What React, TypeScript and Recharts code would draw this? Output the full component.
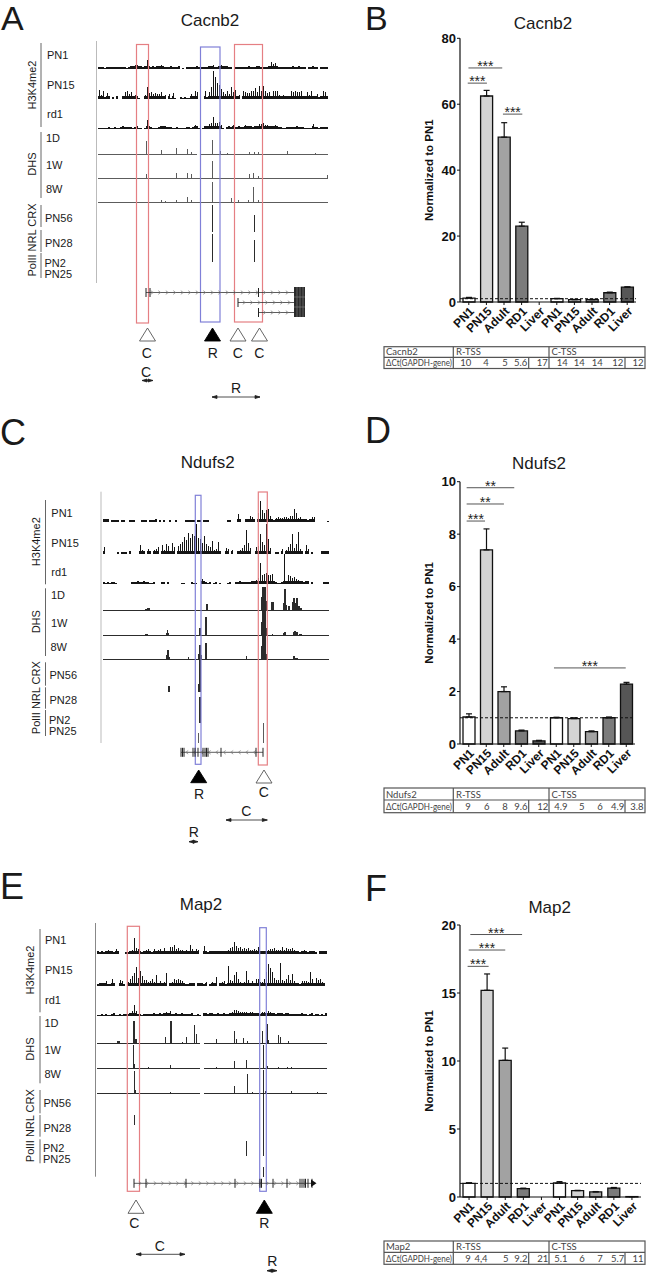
import React from 'react';
import {
  BarChart,
  Bar,
  Cell,
  ErrorBar,
  XAxis,
  YAxis,
  ReferenceLine,
} from 'recharts';

const FONT = '"Liberation Sans", Arial, sans-serif';
const TRACK_DARK = '#151515';
const TRACK_THIN = '#4a4a4a';
const RED = '#e57f83';
const BLUE = '#8080d8';

const CATEGORIES = ['PN1', 'PN15', 'Adult', 'RD1', 'Liver', 'PN1', 'PN15', 'Adult', 'RD1', 'Liver'];
const BAR_FILLS = ['#ffffff', '#d4d4d4', '#a2a2a2', '#7b7b7b', '#565656', '#ffffff', '#d4d4d4', '#a2a2a2', '#7b7b7b', '#565656'];

const cacnb2Values = [1.2, 62.5, 50, 23, 0, 1.0, 0.7, 0.7, 2.8, 4.5];
const cacnb2Errors = [0.2, 1.7, 4.4, 1.2, 0, 0.1, 0.1, 0.1, 0.2, 0.1];
const cacnb2Dct = ['10', '4', '5', '5.6', '17', '14', '14', '14', '12', '12'];

const ndufs2Values = [1.03, 7.4, 2.0, 0.5, 0.12, 1.0, 0.97, 0.47, 1.0, 2.28];
const ndufs2Errors = [0.12, 0.8, 0.18, 0.03, 0.02, 0.02, 0.03, 0.03, 0.03, 0.07];
const ndufs2Dct = ['9', '6', '8', '9.6', '12', '4.9', '5', '6', '4.9', '3.8'];

const map2Values = [1.0, 15.2, 10.05, 0.62, 0, 1.03, 0.47, 0.37, 0.65, 0.03];
const map2Errors = [0.05, 1.2, 0.9, 0.03, 0, 0.1, 0.02, 0.03, 0.05, 0];
const map2Dct = ['9', '4,4', '5', '9.2', '21', '5.1', '6', '7', '5.7', '11'];

// significance brackets: [from slot, to slot, height, stars]
const cacnb2Sig: [number, number, number, string][] = [
  [-0.06, 1.03, 66.4, '***'],
  [-0.02, 1.9, 71, '***'],
  [1.94, 3.04, 57, '***'],
];
const ndufs2Sig: [number, number, number, string][] = [
  [-0.12, 0.93, 8.5, '***'],
  [-0.12, 2.01, 9.15, '**'],
  [-0.12, 2.6, 9.77, '**'],
  [4.87, 8.97, 2.9, '***'],
];
const map2Sig: [number, number, number, string][] = [
  [-0.08, 1.08, 16.96, '***'],
  [-0.02, 2.0, 18.16, '***'],
  [0.07, 2.93, 19.3, '***'],
];

// H3K4me2 signal, one value per 2px bin
const aPn1 = [
  2, 2, 2, 1, 2, 2, 2, 2, 2, 2,
  2, 2, 2, 2, 1, 2, 3, 3, 4, 4,
  3, 3, 2, 3, 9, 3, 2, 3, 2, 3,
  3, 4, 3, 2, 2, 2, 3, 2, 2, 2,
  3, 0, 1, 0, 2, 2, 2, 2, 2, 3,
  2, 2, 2, 2, 2, 3, 3, 4, 2, 2,
  3, 4, 3, 3, 3, 2, 2, 0, 2, 2,
  2, 2, 2, 2, 2, 3, 2, 2, 2, 3,
  3, 2, 2, 2, 2, 3, 7, 5, 6, 3,
  2, 2, 2, 2, 2, 2, 2, 3, 2, 2,
  3, 2, 2, 2, 0, 2, 2, 3, 2, 2,
  0, 2, 2, 2, 2,
];
const aPn15 = [
  9, 4, 8, 2, 6, 3, 0, 2, 0, 3,
  0, 0, 3, 7, 8, 5, 7, 3, 4, 3,
  1, 0, 0, 4, 12, 6, 7, 5, 6, 5,
  5, 7, 3, 4, 0, 5, 1, 6, 1, 0,
  0, 2, 1, 2, 1, 1, 5, 3, 8, 7,
  0, 0, 0, 8, 2, 7, 12, 28, 22, 16,
  14, 10, 7, 5, 8, 5, 12, 7, 9, 3,
  4, 0, 8, 7, 6, 6, 8, 8, 11, 7,
  13, 8, 13, 8, 6, 7, 3, 8, 8, 8,
  4, 3, 4, 3, 3, 3, 8, 7, 8, 7,
  7, 8, 3, 3, 7, 4, 8, 3, 3, 5,
  2, 3, 8, 7, 3,
];
const aRd1 = [
  1, 1, 1, 1, 1, 2, 1, 1, 2, 1,
  1, 2, 3, 2, 2, 2, 2, 1, 2, 3,
  1, 1, 0, 1, 9, 3, 2, 1, 1, 1,
  2, 3, 3, 3, 2, 2, 2, 1, 1, 2,
  1, 1, 1, 1, 2, 2, 1, 2, 4, 3,
  1, 0, 1, 3, 3, 5, 6, 12, 6, 6,
  7, 4, 1, 0, 2, 3, 2, 4, 2, 2,
  3, 2, 2, 4, 3, 3, 3, 2, 3, 3,
  5, 5, 6, 4, 4, 3, 3, 3, 4, 3,
  2, 2, 1, 1, 2, 2, 2, 2, 2, 3,
  2, 2, 2, 1, 1, 1, 1, 5, 2, 2,
  1, 2, 2, 2, 2,
];
const cPn1 = [
  3, 3, 3, 0, 2, 2, 2, 2, 0, 2,
  2, 0, 0, 2, 2, 2, 0, 0, 0, 2,
  2, 2, 0, 2, 2, 2, 3, 0, 2, 0,
  2, 0, 0, 2, 0, 0, 2, 0, 0, 0,
  0, 2, 2, 2, 2, 2, 0, 2, 2, 0,
  2, 2, 2, 0, 0, 0, 0, 0, 0, 0,
  0, 0, 2, 2, 0, 0, 0, 8, 3, 0,
  0, 3, 3, 6, 5, 3, 0, 9, 21, 12,
  9, 12, 13, 6, 3, 2, 4, 5, 4, 4,
  5, 5, 4, 6, 6, 13, 9, 4, 5, 3,
  3, 3, 2, 3, 5, 5, 0, 0, 0, 0,
  0, 0, 1,
];
const cPn15 = [
  7, 0, 0, 0, 0, 0, 0, 2, 0, 2,
  2, 2, 0, 3, 0, 0, 0, 0, 9, 4,
  3, 0, 5, 3, 0, 4, 5, 7, 0, 9,
  4, 10, 8, 3, 11, 7, 0, 8, 10, 12,
  17, 14, 21, 16, 20, 18, 30, 16, 15, 11,
  18, 10, 8, 7, 13, 4, 5, 12, 3, 0,
  0, 6, 5, 0, 4, 0, 0, 3, 4, 6,
  9, 24, 11, 6, 0, 0, 7, 8, 20, 12,
  9, 30, 15, 6, 0, 0, 2, 2, 0, 5,
  0, 4, 7, 10, 20, 6, 10, 22, 5, 3,
  0, 9, 5, 0, 2, 0, 0, 0, 0, 3,
  3, 3, 3,
];
const cRd1 = [
  2, 1, 2, 1, 2, 2, 1, 0, 0, 0,
  0, 0, 0, 0, 2, 2, 2, 3, 2, 2,
  3, 2, 2, 1, 1, 2, 0, 0, 0, 2,
  2, 0, 2, 0, 0, 0, 0, 0, 0, 1,
  1, 0, 0, 0, 2, 1, 1, 0, 0, 5,
  3, 2, 1, 2, 0, 1, 2, 0, 1, 0,
  0, 0, 1, 2, 0, 0, 2, 2, 3, 2,
  2, 2, 2, 2, 3, 3, 4, 6, 21, 9,
  10, 11, 9, 9, 10, 3, 2, 1, 1, 2,
  30, 3, 9, 8, 6, 7, 5, 4, 3, 3,
  2, 3, 3, 0, 2, 0, 0, 0, 0, 0,
  2, 2, 2,
];
const ePn1 = [
  3, 2, 3, 2, 3, 4, 3, 3, 2, 5,
  3, 0, 0, 0, 2, 2, 3, 4, 16, 6,
  5, 3, 2, 3, 4, 5, 3, 2, 5, 3,
  4, 5, 3, 6, 3, 3, 7, 7, 9, 5,
  6, 4, 4, 3, 4, 3, 9, 5, 3, 5,
  4, 0, 0, 8, 3, 2, 3, 3, 3, 3,
  3, 3, 3, 3, 3, 4, 6, 7, 12, 8,
  6, 7, 5, 6, 5, 6, 4, 4, 5, 4,
  7, 3, 3, 3, 3, 4, 5, 5, 6, 4,
  4, 4, 7, 4, 6, 5, 5, 6, 4, 3,
  3, 2, 3, 4, 3, 2, 3, 3, 3, 2,
  0, 3, 3, 3, 3,
];
const ePn15 = [
  2, 3, 3, 3, 5, 2, 2, 7, 3, 0,
  0, 6, 5, 2, 0, 4, 7, 10, 13, 19,
  8, 15, 10, 6, 6, 4, 5, 7, 4, 11,
  3, 5, 3, 4, 13, 0, 3, 4, 7, 6,
  7, 6, 5, 3, 2, 2, 3, 3, 3, 0,
  3, 3, 3, 2, 4, 0, 2, 4, 3, 9,
  0, 3, 4, 5, 2, 20, 6, 5, 11, 14,
  7, 4, 3, 4, 15, 6, 3, 5, 3, 7,
  7, 4, 4, 7, 14, 22, 18, 14, 8, 6,
  6, 23, 6, 5, 7, 11, 6, 12, 5, 3,
  3, 2, 5, 5, 5, 4, 14, 7, 3, 8,
  6, 7, 4, 3, 0,
];
const eRd1 = [
  1, 1, 2, 1, 2, 1, 1, 2, 3, 1,
  1, 2, 1, 2, 2, 2, 3, 5, 11, 5,
  2, 2, 1, 2, 2, 2, 2, 2, 3, 2,
  2, 3, 2, 3, 4, 3, 5, 2, 2, 3,
  2, 2, 3, 2, 2, 2, 2, 3, 1, 1,
  2, 1, 0, 3, 3, 2, 3, 3, 2, 2,
  3, 2, 2, 3, 2, 2, 3, 4, 6, 6,
  5, 4, 4, 4, 4, 3, 4, 4, 3, 3,
  3, 2, 4, 4, 3, 5, 4, 3, 3, 2,
  3, 3, 3, 2, 3, 3, 2, 2, 2, 2,
  2, 2, 3, 2, 2, 1, 2, 3, 1, 2,
  2, 1, 2, 1, 3,
];

// DHS and PolII/NRL/CRX peaks: [position in 1px bins, height, span]
type Peak = [number, number, number?];
const aDhs1d: Peak[] = [[48, 14], [63, 5], [78, 7], [89, 6], [93, 3], [114, 15], [122, 4], [129, 2], [151, 3], [156, 3], [160, 3], [189, 4], [217, 2]];
const aDhs1w: Peak[] = [[48, 5], [78, 6], [89, 6], [93, 5], [114, 18], [151, 5], [155, 6], [160, 3], [229, 4]];
const aDhs8w: Peak[] = [[63, 3], [67, 2], [78, 3], [89, 6], [93, 3], [114, 21], [133, 5], [140, 3], [150, 3], [155, 16], [160, 3]];
const aChip56: Peak[] = [[114, 27], [156, 17]];
const aChip28: Peak[] = [[114, 28], [156, 22]];

const cDhs1d: Peak[] = [[42, 2, 2], [44, 3, 3], [103, 7, 2], [158, 14], [159, 24, 4], [163, 10], [168, 9, 3], [180, 8], [181, 22, 2], [183, 6], [185, 5, 2], [189, 9], [190, 13, 2], [192, 8], [193, 13, 2], [195, 5, 2], [197, 3, 2]];
const cDhs1w: Peak[] = [[42, 2, 3], [63, 3], [64, 6], [65, 3], [96, 8, 2], [102, 19, 2], [158, 14], [159, 25, 4], [163, 8], [169, 2], [180, 3], [181, 4, 2], [190, 4], [191, 5, 2], [193, 4, 2], [196, 2, 3]];
const cDhs8w: Peak[] = [[63, 5], [64, 10, 2], [66, 3], [85, 3], [95, 6], [96, 15, 2], [98, 5], [102, 17, 2], [143, 4], [158, 14], [159, 24, 4], [163, 6], [190, 4, 2], [192, 2, 3]];
const cChip56: Peak[] = [[65, 6, 2], [95, 8], [96, 32, 2]];
const cChip28: Peak[] = [[96, 26, 2]];
const cChip25: Peak[] = [[95, 10], [160, 20]];

const eDhs1d: Peak[] = [[20, 3, 3], [36, 23, 2], [38, 5, 2], [68, 7], [73, 23, 2], [85, 2], [89, 7], [97, 19], [99, 10], [119, 5], [137, 13], [139, 5], [146, 6], [150, 3], [165, 13], [170, 20], [171, 4], [181, 9], [183, 7], [191, 3]];
const eDhs1w: Peak[] = [[36, 24], [37, 5], [51, 2], [73, 4], [119, 2], [137, 8], [149, 9], [166, 24], [170, 3], [181, 2], [190, 2], [194, 2]];
const eDhs8w: Peak[] = [[37, 23], [38, 4], [73, 2], [137, 8], [150, 20], [155, 2], [166, 24], [168, 3], [194, 3], [220, 2]];
const eChip28: Peak[] = [[37, 10]];
const eChip2: Peak[] = [[149, 15], [166, 63]];
const eChip25: Peak[] = [[166, 10]];

const binsFromPeaks = (peaks: Peak[], count: number, base: number, gaps: number[][] = []) => {
  const bins = new Array(count).fill(base);
  gaps.forEach(([from, to]) => {
    for (let i = from; i <= to; i++) bins[i] = 0;
  });
  peaks.forEach(([pos, h, span = 1]) => {
    for (let i = 0; i < span; i++) bins[pos + i] = h;
  });
  return bins;
};

const Track = ({ values, x, baseline, binWidth = 2, barSize = binWidth, height = 34, fill = TRACK_DARK }: {
  values: number[];
  x: number;
  baseline: number;
  binWidth?: number;
  barSize?: number;
  height?: number;
  fill?: string;
}) => {
  const data = values.map((v, i) => ({ i, v }));
  return (
    <div style={{ position: 'absolute', left: x, top: baseline - height, filter: 'blur(0.35px)' }}>
      <BarChart
        width={values.length * binWidth}
        height={height}
        data={data}
        margin={{ top: 0, right: 0, bottom: 0, left: 0 }}
        barCategoryGap={0}
        barGap={0}
      >
        <XAxis dataKey="i" hide />
        <YAxis hide domain={[0, height]} allowDataOverflow />
        <Bar dataKey="v" fill={fill} barSize={barSize} isAnimationActive={false} />
      </BarChart>
    </div>
  );
};

// histone tracks: a solid low band with 1px spikes rising out of it
const HistoneTrack = ({ values, x, baseline }: { values: number[]; x: number; baseline: number }) => (
  <>
    <Track values={values.map((v) => Math.min(v, 3))} x={x} baseline={baseline} />
    <Track values={values} x={x} baseline={baseline} barSize={1} />
  </>
);

const STAR_LABEL = { position: 'top' as const, offset: -3, fontSize: 14, fill: '#222', fontFamily: FONT };

const ExpressionChart = ({ values, errors, sig, top, height, plotTop, plotRight, yMax, yTicks }: {
  values: number[];
  errors: number[];
  sig: [number, number, number, string][];
  top: number;
  height: number;
  plotTop: number;
  plotRight: number;
  yMax: number;
  yTicks: number[];
}) => {
  const data = values.map((v, i) => ({ slot: i, v, err: [0, errors[i]] }));
  const chartLeft = 400;
  return (
    <div style={{ position: 'absolute', left: chartLeft, top }}>
      <BarChart
        width={248}
        height={height + 52}
        data={data}
        margin={{ top: plotTop, right: 248 - (plotRight - chartLeft), bottom: 0, left: 0 }}
      >
        <XAxis
          dataKey="slot"
          type="number"
          domain={[-0.5, 9.5]}
          ticks={[0, 1, 2, 3, 4, 5, 6, 7, 8, 9]}
          interval={0}
          height={52}
          angle={-45}
          textAnchor="end"
          tickSize={3}
          tickMargin={1}
          tickFormatter={(i: number) => CATEGORIES[i]}
          tick={{ fontSize: 12, fontWeight: 700, fill: '#111', fontFamily: FONT }}
          tickLine={{ stroke: '#111' }}
          axisLine={{ stroke: '#111', strokeWidth: 1.2 }}
        />
        <YAxis
          type="number"
          width={60}
          domain={[0, yMax]}
          ticks={yTicks}
          interval={0}
          tickSize={3}
          tickMargin={1}
          tick={{ fontSize: 13, fontWeight: 700, fill: '#111', fontFamily: FONT }}
          tickLine={{ stroke: '#111' }}
          axisLine={{ stroke: '#111', strokeWidth: 1.2 }}
          label={{ value: 'Normalized to PN1', angle: -90, position: 'center', dx: -1, fontSize: 11.5, fontWeight: 700, fill: '#111', fontFamily: FONT }}
        />
        <Bar dataKey="v" barSize={12} stroke="#111" strokeWidth={1.3} isAnimationActive={false}>
          {data.map((d) => (
            <Cell key={d.slot} fill={BAR_FILLS[d.slot]} />
          ))}
          <ErrorBar dataKey="err" direction="y" width={3} stroke="#111" strokeWidth={1.2} isAnimationActive={false} />
        </Bar>
        <ReferenceLine y={1} stroke="#111" strokeDasharray="3 2" strokeWidth={1} />
        {sig.map(([from, to, y, stars]) => (
          <ReferenceLine
            key={`${from}-${y}`}
            segment={[{ x: from, y }, { x: to, y }]}
            stroke="#555"
            strokeWidth={1}
            label={{ ...STAR_LABEL, value: stars }}
          />
        ))}
      </BarChart>
    </div>
  );
};

const DctTable = ({ gene, values, xs, top, bottom, mid }: {
  gene: string;
  values: string[];
  xs: number[];
  top: number;
  bottom: number;
  mid: number;
}) => {
  const style = { fontFamily: 'Lato, sans-serif', fontSize: 9.5, fill: '#444' };
  const stroke = '#555';
  return (
    <g>
      <rect x={384} y={top} width={261} height={bottom - top} fill="none" stroke={stroke} strokeWidth={1.2} />
      <line x1={384} x2={645} y1={mid} y2={mid} stroke={stroke} strokeWidth={1.2} />
      <line x1={453.3} x2={453.3} y1={top} y2={bottom} stroke={stroke} strokeWidth={1.2} />
      <line x1={549} x2={549} y1={top} y2={bottom} stroke={stroke} strokeWidth={1.2} />
      <line x1={528.7} x2={528.7} y1={mid} y2={bottom} stroke={stroke} strokeWidth={1.2} />
      <line x1={625} x2={625} y1={mid} y2={bottom} stroke={stroke} strokeWidth={1.2} />
      <text x={386} y={mid - 2.5} {...style}>{gene}</text>
      <text x={456} y={mid - 2.5} {...style}>R-TSS</text>
      <text x={551.5} y={mid - 2.5} {...style}>C-TSS</text>
      <text x={386} y={bottom - 2.5} {...style} fontSize={8.6} textLength={66} lengthAdjust="spacingAndGlyphs">ΔCt(GAPDH-gene)</text>
      {values.map((v, i) => (
        <text key={i} x={xs[i]} y={bottom - 2.5} textAnchor="middle" {...style}>{v}</text>
      ))}
    </g>
  );
};

const Txt = ({ x, y, size = 11, anchor = 'start', children }: {
  x: number;
  y: number;
  size?: number;
  anchor?: 'start' | 'middle';
  children: string;
}) => (
  <text x={x} y={y} fontSize={size} textAnchor={anchor} fill="#1a1a1a" fontFamily={FONT}>{children}</text>
);

const VTxt = ({ x, y, children }: { x: number; y: number; children: string }) => (
  <text x={x} y={y} fontSize={11} textAnchor="middle" fill="#1a1a1a" fontFamily={FONT} transform={`rotate(-90 ${x} ${y})`}>{children}</text>
);

const Box = ({ x1, x2, y1, y2, color }: { x1: number; x2: number; y1: number; y2: number; color: string }) => (
  <rect x={x1} y={y1} width={x2 - x1} height={y2 - y1} fill="none" stroke={color} strokeWidth={1.2} />
);

const Triangle = ({ x, y1, y2, filled }: { x: number; y1: number; y2: number; filled?: boolean }) => (
  <polygon
    points={`${x - 8},${y2} ${x + 8},${y2} ${x},${y1}`}
    fill={filled ? '#000' : '#fff'}
    stroke={filled ? '#000' : '#555'}
    strokeWidth={0.9}
  />
);

const Arrow = ({ x1, x2, y }: { x1: number; x2: number; y: number }) => (
  <g stroke="#222" fill="#222" strokeWidth={0.8}>
    <line x1={x1} x2={x2} y1={y} y2={y} />
    <polygon points={`${x1},${y} ${x1 + 5},${y - 1.5} ${x1 + 5},${y + 1.5}`} />
    <polygon points={`${x2},${y} ${x2 - 5},${y - 1.5} ${x2 - 5},${y + 1.5}`} />
  </g>
);

const Gene = ({ x1, x2, y, ticks = [], dir = 1 }: { x1: number; x2: number; y: number; ticks?: number[]; dir?: number }) => {
  const chevrons: number[] = [];
  for (let c = x1 + 6; c < x2 - 3; c += 7.5) chevrons.push(c);
  return (
    <g>
      <line x1={x1} x2={x2} y1={y} y2={y} stroke="#333" strokeWidth={0.8} />
      {chevrons.map((c) => (
        <path key={c} d={`M${c - dir * 1.2} ${y - 1.8} L${c + dir * 1.2} ${y} L${c - dir * 1.2} ${y + 1.8}`} fill="none" stroke="#777" strokeWidth={0.7} />
      ))}
      {ticks.map((t) => (
        <line key={t} x1={t} x2={t} y1={y - 4.5} y2={y + 4.5} stroke="#222" strokeWidth={1} />
      ))}
    </g>
  );
};

const TrackLabels = ({ rows }: { rows: [string, number, number][] }) => (
  <g>
    {rows.map(([label, x, y]) => (
      <Txt key={label} x={x} y={y}>{label}</Txt>
    ))}
  </g>
);

const Side = ({ x, spans }: { x: number; spans: number[][] }) => (
  <g>
    {spans.map(([a, b]) => (
      <line key={a} x1={x} x2={x} y1={a} y2={b} stroke="#555" strokeWidth={0.9} />
    ))}
  </g>
);

const Annotations = () => (
  <svg width={648} height={1274} style={{ position: 'absolute', left: 0, top: 0 }}>
    {/* panel A */}
    <Txt x={1} y={30} size={34}>A</Txt>
    <Txt x={210} y={26} size={17} anchor="middle">Cacnb2</Txt>
    <line x1={96.5} x2={96.5} y1={41} y2={283} stroke="#bbb" strokeWidth={1} />
    <Side x={41} spans={[[43, 127], [132, 198], [205, 227], [230, 252], [253, 278]]} />
    <VTxt x={36} y={85}>H3K4me2</VTxt>
    <VTxt x={36} y={164}>DHS</VTxt>
    <VTxt x={36} y={240}>PolII NRL CRX</VTxt>
    <TrackLabels rows={[['PN1', 47, 59], ['PN15', 47, 89], ['rd1', 47, 118], ['1D', 46, 142], ['1W', 46, 169], ['8W', 46, 193], ['PN56', 45, 222], ['PN28', 45, 247], ['PN2', 44.5, 267], ['PN25', 44.5, 278]]} />
    <Box x1={136.5} x2={148.5} y1={44.5} y2={323} color={RED} />
    <Box x1={200.5} x2={220} y1={47} y2={322} color={BLUE} />
    <Box x1={234.5} x2={262.5} y1={44.5} y2={322} color={RED} />
    <Gene x1={146} x2={295} y={292.5} ticks={[146, 150, 258.5]} />
    <Gene x1={238} x2={295} y={302.5} ticks={[238]} />
    <Gene x1={258.5} x2={295} y={312.5} ticks={[258.5]} />
    <rect x={294} y={287} width={11} height={30} fill="#2a2a2a" />
    <path d="M297 287V317M300 287V317M303 287V317M294 297H305M294 307H305" stroke="#888" strokeWidth={0.6} />
    <Triangle x={147.5} y1={328} y2={341} />
    <Triangle x={212.5} y1={328} y2={341} filled />
    <Triangle x={238} y1={328} y2={341} />
    <Triangle x={259.5} y1={328} y2={341} />
    <Txt x={146.7} y={358} size={14} anchor="middle">C</Txt>
    <Txt x={212.7} y={358} size={14} anchor="middle">R</Txt>
    <Txt x={237.7} y={358} size={14} anchor="middle">C</Txt>
    <Txt x={259.3} y={358} size={14} anchor="middle">C</Txt>
    <Txt x={146} y={377} size={14} anchor="middle">C</Txt>
    <Arrow x1={142} x2={153} y={380.5} />
    <Txt x={236} y={393} size={14} anchor="middle">R</Txt>
    <Arrow x1={212} x2={260} y={397} />

    {/* panel B */}
    <Txt x={365} y={30} size={34}>B</Txt>
    <Txt x={543} y={29} size={17} anchor="middle">Cacnb2</Txt>
    <DctTable gene="Cacnb2" values={cacnb2Dct} xs={[465.7, 486, 505, 520.7, 542.3, 562.3, 579.3, 597.3, 617.7, 638]} top={346.7} bottom={368.5} mid={357.3} />

    {/* panel C */}
    <Txt x={0} y={445} size={36}>C</Txt>
    <Txt x={207.7} y={468} size={17} anchor="middle">Ndufs2</Txt>
    <line x1={101} x2={101} y1={491.7} y2={743} stroke="#bbb" strokeWidth={1} />
    <Side x={45.5} spans={[[500, 584.3], [588.3, 656], [662.3, 685.7], [687.3, 708.7], [710, 736]]} />
    <VTxt x={40} y={541.7}>H3K4me2</VTxt>
    <VTxt x={40} y={621.7}>DHS</VTxt>
    <VTxt x={40} y={697.7}>PolII NRL CRX</VTxt>
    <TrackLabels rows={[['PN1', 51.3, 516.7], ['PN15', 51.3, 546.7], ['rd1', 51.3, 576], ['1D', 51, 599.3], ['1W', 51, 626.7], ['8W', 50.5, 650.7], ['PN56', 49.5, 679.3], ['PN28', 49.5, 704.3], ['PN2', 49, 723.7], ['PN25', 49, 734.7]]} />
    <Box x1={195.3} x2={201} y1={495.3} y2={764.3} color={BLUE} />
    <Box x1={258.3} x2={267.3} y1={492} y2={765} color={RED} />
    <Gene x1={181} x2={263} y={752.3} dir={-1} ticks={[181, 182.5, 184, 193, 195, 198, 203, 205, 206.5, 208, 221, 256, 263]} />
    <Triangle x={198.7} y1={770} y2={782.7} filled />
    <Triangle x={264} y1={770} y2={783} />
    <Txt x={199} y={799} size={14} anchor="middle">R</Txt>
    <Txt x={263.7} y={797.3} size={14} anchor="middle">C</Txt>
    <Txt x={246.3} y={816} size={14} anchor="middle">C</Txt>
    <Arrow x1={226} x2={267.3} y={820} />
    <Txt x={193.7} y={836.7} size={14} anchor="middle">R</Txt>
    <Arrow x1={189} x2={198} y={841.7} />

    {/* panel D */}
    <Txt x={365} y={443} size={36}>D</Txt>
    <Txt x={539} y={469} size={17} anchor="middle">Ndufs2</Txt>
    <DctTable gene="Ndufs2" values={ndufs2Dct} xs={[468, 486.7, 505, 521, 542.7, 561, 581.7, 600, 617.7, 637]} top={788} bottom={812.7} mid={800} />

    {/* panel E */}
    <Txt x={0} y={899} size={36}>E</Txt>
    <Txt x={201} y={910} size={17} anchor="middle">Map2</Txt>
    <line x1={95.5} x2={95.5} y1={923} y2={1176.7} stroke="#888" strokeWidth={1} />
    <Side x={40} spans={[[929, 1012.3], [1016, 1083.3], [1090, 1113.3], [1115, 1136.7], [1139.3, 1163.3]]} />
    <VTxt x={34} y={970}>H3K4me2</VTxt>
    <VTxt x={34} y={1049}>DHS</VTxt>
    <VTxt x={34} y={1125.7}>PolII NRL CRX</VTxt>
    <TrackLabels rows={[['PN1', 45, 944.3], ['PN15', 45, 974.3], ['rd1', 45, 1004], ['1D', 44.5, 1027.3], ['1W', 44.5, 1054.3], ['8W', 44.5, 1078.3], ['PN56', 43.5, 1107.3], ['PN28', 43.5, 1132], ['PN2', 43, 1151.7], ['PN25', 43, 1162.7]]} />
    <Box x1={127.3} x2={139.5} y1={926.3} y2={1191.3} color={RED} />
    <Box x1={259.7} x2={266.3} y1={927.7} y2={1191.3} color={BLUE} />
    <Gene x1={134} x2={314} y={1183.3} ticks={[134, 146, 186, 235, 260, 261.5, 273, 287, 300, 302, 304, 305.5, 308, 312]} />
    <polygon points="311,1179.5 316.5,1183.3 311,1187" fill="#111" />
    <Triangle x={136} y1={1200} y2={1213.3} />
    <Triangle x={264.3} y1={1200} y2={1213.3} filled />
    <Txt x={134.3} y={1228.3} size={14} anchor="middle">C</Txt>
    <Txt x={264.3} y={1227.7} size={14} anchor="middle">R</Txt>
    <Txt x={159.7} y={1250.7} size={14} anchor="middle">C</Txt>
    <Arrow x1={136} x2={185} y={1254.3} />
    <Txt x={272.3} y={1265.7} size={14} anchor="middle">R</Txt>
    <Arrow x1={267} x2={277} y={1270.7} />

    {/* panel F */}
    <Txt x={365} y={901} size={36}>F</Txt>
    <Txt x={549.7} y={913} size={17} anchor="middle">Map2</Txt>
    <DctTable gene="Map2" values={map2Dct} xs={[468, 481, 505.7, 521, 542.7, 561, 582, 600, 617.7, 638]} top={1241} bottom={1264.3} mid={1252.3} />
  </svg>
);

export default function App() {
  const dhs = TRACK_THIN;
  return (
    <div style={{ position: 'absolute', left: 0, top: 0, width: 648, height: 1274, background: '#fff', overflow: 'hidden', fontFamily: FONT }}>
      <HistoneTrack values={aPn1} x={98} baseline={69} />
      <HistoneTrack values={aPn15} x={98} baseline={99} />
      <HistoneTrack values={aRd1} x={98} baseline={129} />
      <Track values={binsFromPeaks(aDhs1d, 230, 1, [[99, 101]])} x={98} baseline={155} binWidth={1} fill={dhs} />
      <Track values={binsFromPeaks(aDhs1w, 230, 1)} x={98} baseline={178.5} binWidth={1} fill={dhs} />
      <Track values={binsFromPeaks(aDhs8w, 230, 1)} x={98} baseline={202.5} binWidth={1} fill={dhs} />
      <Track values={binsFromPeaks(aChip56, 230, 0)} x={98} baseline={232} binWidth={1} fill={TRACK_DARK} />
      <Track values={binsFromPeaks(aChip28, 230, 0)} x={98} baseline={262} binWidth={1} fill={TRACK_DARK} />

      <HistoneTrack values={cPn1} x={103} baseline={522} />
      <HistoneTrack values={cPn15} x={103} baseline={553.5} />
      <HistoneTrack values={cRd1} x={103} baseline={584} />
      <Track values={binsFromPeaks(cDhs1d, 226, 1)} x={103} baseline={610.5} binWidth={1} fill={TRACK_DARK} />
      <Track values={binsFromPeaks(cDhs1w, 226, 1)} x={103} baseline={635.5} binWidth={1} fill={TRACK_DARK} />
      <Track values={binsFromPeaks(cDhs8w, 226, 1)} x={103} baseline={659.5} binWidth={1} fill={TRACK_DARK} />
      <Track values={binsFromPeaks(cChip56, 226, 0)} x={103} baseline={692} binWidth={1} />
      <Track values={binsFromPeaks(cChip28, 226, 0)} x={103} baseline={723} binWidth={1} />
      <Track values={binsFromPeaks(cChip25, 226, 0)} x={103} baseline={743} binWidth={1} fill={dhs} />

      <HistoneTrack values={ePn1} x={97} baseline={954} />
      <HistoneTrack values={ePn15} x={97} baseline={985.5} />
      <HistoneTrack values={eRd1} x={97} baseline={1016} />
      <Track values={binsFromPeaks(eDhs1d, 230, 1, [[103, 106]])} x={97} baseline={1043.5} binWidth={1} fill={TRACK_DARK} />
      <Track values={binsFromPeaks(eDhs1w, 230, 1, [[103, 106]])} x={97} baseline={1068.5} binWidth={1} fill={TRACK_DARK} />
      <Track values={binsFromPeaks(eDhs8w, 230, 1, [[103, 106]])} x={97} baseline={1093.5} binWidth={1} fill={TRACK_DARK} />
      <Track values={binsFromPeaks(eChip28, 230, 0)} x={97} baseline={1125} binWidth={1} />
      <Track values={binsFromPeaks(eChip2, 230, 0)} x={97} baseline={1156} binWidth={1} height={70} />
      <Track values={binsFromPeaks(eChip25, 230, 0)} x={97} baseline={1177} binWidth={1} />

      <ExpressionChart values={cacnb2Values} errors={cacnb2Errors} sig={cacnb2Sig} top={20} height={282} plotTop={18.3} plotRight={636} yMax={80} yTicks={[0, 20, 40, 60, 80]} />
      <ExpressionChart values={ndufs2Values} errors={ndufs2Errors} sig={ndufs2Sig} top={462} height={282} plotTop={19.7} plotRight={635} yMax={10} yTicks={[0, 2, 4, 6, 8, 10]} />
      <ExpressionChart values={map2Values} errors={map2Errors} sig={map2Sig} top={905} height={292} plotTop={20} plotRight={641} yMax={20} yTicks={[0, 5, 10, 15, 20]} />

      <Annotations />
    </div>
  );
}
